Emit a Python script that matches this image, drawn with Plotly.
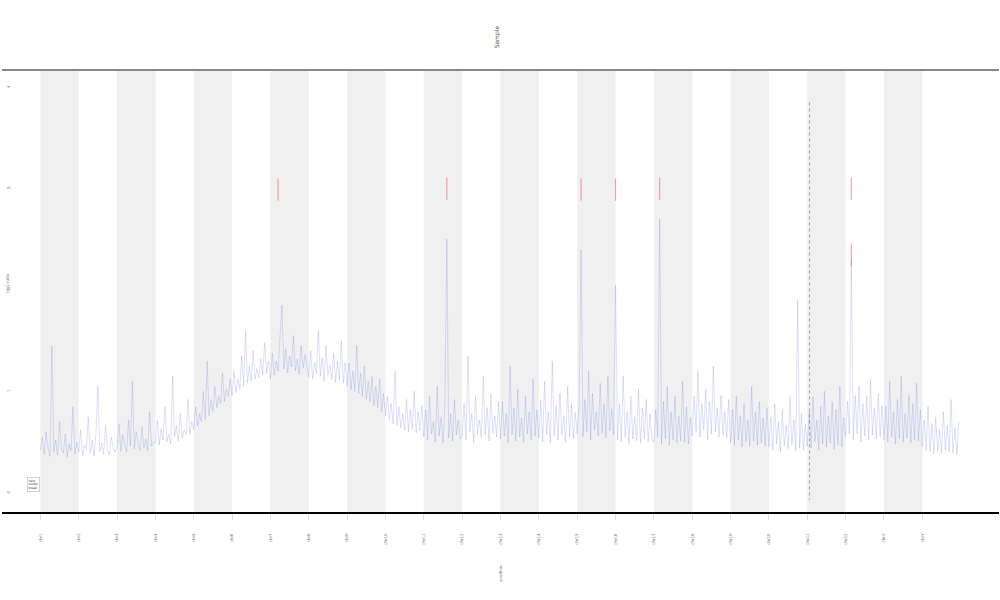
import numpy as np
import plotly.graph_objects as go

# segment names (24 bands, alternately shaded)
segments = [f"chr{i}" for i in range(1, 23)] + ["chrX", "chrY"]

# ratio values, 20 bins per segment
ratio = [
    0.42, 0.55, 0.38, 0.60, 0.44, 0.36, 1.45, 0.40, 0.52, 0.37, 0.70, 0.43, 0.39, 0.58, 0.35, 0.48, 0.41, 0.85, 0.38, 0.50,
    0.40, 0.62, 0.37, 0.47, 0.43, 0.75, 0.39, 0.52, 0.36, 0.58, 1.05, 0.41, 0.49, 0.38, 0.66, 0.42, 0.37, 0.55, 0.44, 0.40,
    0.45, 0.68, 0.41, 0.57, 0.47, 0.40, 0.72, 0.46, 1.10, 0.43, 0.60, 0.48, 0.42, 0.65, 0.44, 0.53, 0.41, 0.80, 0.46, 0.50,
    0.49, 0.72, 0.47, 0.63, 0.52, 0.85, 0.50, 0.58, 0.48, 1.15, 0.55, 0.66, 0.51, 0.78, 0.54, 0.62, 0.57, 0.92, 0.58, 0.70,
    0.62, 0.85, 0.66, 0.78, 0.70, 1.00, 0.72, 1.30, 0.76, 0.92, 0.80, 1.05, 0.84, 0.95, 0.88, 1.18, 0.90, 1.02, 0.95, 1.12,
    0.96, 1.20, 0.99, 1.12, 1.03, 1.35, 1.05, 1.60, 1.08, 1.25, 1.10, 1.40, 1.12, 1.22, 1.14, 1.32, 1.16, 1.48, 1.18, 1.30,
    1.12, 1.38, 1.16, 1.30, 1.20, 1.50, 1.85, 1.22, 1.42, 1.18, 1.35, 1.24, 1.55, 1.20, 1.32, 1.17, 1.45, 1.23, 1.36, 1.25,
    1.14, 1.40, 1.12, 1.28, 1.18, 1.60, 1.15, 1.33, 1.10, 1.45, 1.16, 1.26, 1.12, 1.38, 1.09, 1.30, 1.11, 1.50, 1.08, 1.28,
    1.05, 1.28, 1.02, 1.20, 1.00, 1.45, 0.98, 1.18, 0.95, 1.25, 0.92, 1.10, 0.90, 1.15, 0.86, 1.05, 0.84, 1.12, 0.80, 0.98,
    0.76, 0.95, 0.72, 0.88, 0.68, 1.20, 0.66, 0.85, 0.64, 0.78, 0.62, 0.92, 0.60, 0.82, 0.63, 1.00, 0.59, 0.80, 0.61, 0.86,
    0.55, 0.82, 0.52, 0.95, 0.58, 0.70, 0.50, 1.05, 0.56, 0.75, 0.49, 0.88, 2.50, 0.54, 0.78, 0.51, 0.92, 0.57, 0.72, 0.53,
    0.56, 0.88, 0.52, 1.35, 0.60, 0.78, 0.50, 0.95, 0.58, 0.72, 0.54, 1.15, 0.57, 0.84, 0.51, 0.98, 0.59, 0.76, 0.55, 0.90,
    0.53, 0.90, 0.56, 0.78, 0.49, 1.25, 0.57, 0.84, 0.51, 1.02, 0.55, 0.74, 0.50, 0.95, 0.58, 0.80, 0.52, 1.12, 0.56, 0.82,
    0.54, 0.92, 0.50, 1.10, 0.58, 0.80, 0.49, 1.30, 0.56, 0.86, 0.52, 0.98, 0.57, 0.76, 0.50, 1.05, 0.55, 0.88, 0.53, 0.79,
    0.58, 0.85, 2.40, 0.55, 0.92, 0.60, 1.20, 0.52, 0.98, 0.62, 0.80, 0.56, 1.08, 0.59, 0.88, 0.54, 1.15, 0.61, 0.83, 0.57,
    2.05, 0.52, 0.88, 0.50, 1.15, 0.55, 0.80, 0.48, 0.95, 0.53, 0.75, 0.51, 1.02, 0.49, 0.84, 0.54, 0.92, 0.50, 0.78, 0.52,
    0.50, 0.82, 0.55, 2.70, 0.48, 0.90, 0.53, 1.05, 0.47, 0.80, 0.52, 0.95, 0.49, 0.76, 0.51, 1.10, 0.50, 0.85, 0.48, 0.74,
    0.56, 0.95, 0.60, 1.20, 0.55, 0.88, 0.62, 1.02, 0.52, 0.90, 0.58, 1.25, 0.60, 0.84, 0.55, 0.96, 0.57, 0.80, 0.54, 0.92,
    0.50, 0.82, 0.47, 0.95, 0.52, 0.76, 0.45, 0.88, 0.50, 0.72, 0.46, 1.05, 0.51, 0.80, 0.47, 0.90, 0.49, 0.74, 0.46, 0.84,
    0.45, 0.75, 0.42, 0.88, 0.48, 0.70, 0.40, 0.82, 0.46, 0.66, 0.43, 0.95, 0.47, 0.72, 0.41, 1.90, 0.44, 0.78, 0.42, 0.68,
    0.46, 0.80, 0.44, 0.95, 0.50, 0.72, 0.42, 0.85, 0.48, 1.00, 0.45, 0.76, 0.49, 0.90, 0.43, 0.82, 0.47, 1.05, 0.45, 0.74,
    0.55, 0.90, 0.58, 2.30, 0.52, 0.96, 0.58, 1.05, 0.50, 0.88, 0.56, 0.95, 0.52, 1.12, 0.57, 0.84, 0.53, 0.98, 0.55, 0.86,
    0.52, 0.85, 0.50, 1.10, 0.55, 0.80, 0.48, 0.92, 0.53, 1.15, 0.50, 0.78, 0.54, 0.96, 0.49, 0.88, 0.52, 1.08, 0.51, 0.82,
    0.45, 0.72, 0.42, 0.85, 0.40, 0.68, 0.38, 0.75, 0.41, 0.62, 0.39, 0.80, 0.42, 0.66, 0.40, 0.92, 0.39, 0.64, 0.38, 0.70,
]
bins_per_segment = 20

# flagged outliers (red ticks)
outlier_pos = [6.20, 10.60, 14.10, 15.00, 16.15, 21.15, 21.15]
outlier_val = [2.99, 3.00, 2.99, 2.99, 3.00, 3.00, 2.35]

# breakpoint marker (dark vertical line)
break_pos = [20.06]
break_top = [3.85]
break_bottom = [-0.07]

y_ticks = [0, 1, 2, 3, 4]

x = np.arange(len(ratio)) / bins_per_segment

fig = go.Figure()
fig.add_trace(go.Scatter(
    x=x, y=ratio, mode="lines", name="ratio",
    line=dict(color="rgba(80,80,235,0.3)", width=0.6),
))
fig.add_trace(go.Scatter(
    x=outlier_pos, y=outlier_val, mode="markers", name="outlier",
    marker=dict(symbol="line-ns", size=16, color="#e05a5a", opacity=0.5,
                line=dict(width=1.2, color="#e05a5a")),
))
for p, t, b in zip(break_pos, break_top, break_bottom):
    fig.add_trace(go.Scatter(
        x=[p, p], y=[t, b], mode="lines", name="break",
        line=dict(color="rgba(40,40,40,0.5)", width=0.8, dash="dot"),
    ))

# alternating shaded segment bands
for k in range(0, len(segments), 2):
    fig.add_shape(type="rect", xref="x", yref="paper", x0=k, x1=k + 1, y0=0, y1=1,
                  fillcolor="#f0f0f0", line_width=0, layer="below")
# top frame line
fig.add_shape(type="line", xref="paper", yref="paper", x0=0, x1=1, y0=1, y1=1,
              line=dict(color="#888888", width=2))

tiny = dict(family="DejaVu Sans", size=4, color="#777777")

fig.update_layout(
    width=1000, height=600,
    plot_bgcolor="white", paper_bgcolor="white",
    margin=dict(l=2, r=1, t=70, b=88),
    showlegend=False,
    xaxis=dict(
        range=[-1, 25], tickmode="array", tickvals=list(range(len(segments))), ticktext=segments,
        tickangle=-90, tickfont=tiny, ticks="outside", ticklen=6, tickcolor="#e0e0e0",
        ticklabelstandoff=12,
        showgrid=False, zeroline=False, showline=True, linecolor="black", linewidth=1.5,
        automargin=False,
    ),
    yaxis=dict(
        range=[-0.19, 4.17], tickvals=y_ticks, tickangle=-90, tickfont=tiny,
        ticklabelposition="inside", showgrid=False, zeroline=False, showline=False,
        automargin=False,
    ),
    annotations=[
        dict(text="Sample", x=0.496, y=1.075, xref="paper", yref="paper", showarrow=False,
             yanchor="middle", textangle=-90,
             font=dict(family="DejaVu Sans", size=6, color="#555555")),
        dict(text="position", x=0.5, y=-0.14, xref="paper", yref="paper", showarrow=False,
             yanchor="middle", textangle=-90, font=tiny),
        dict(text="log2 ratio", x=0.001, y=0.52, xref="paper", yref="paper", showarrow=False,
             textangle=-90, font=tiny, xanchor="left"),
        dict(text="ratio<br>outlier<br>break", x=0.025, y=0.045, xref="paper", yref="paper",
             showarrow=False, font=dict(family="DejaVu Sans", size=3, color="#333333"),
             bordercolor="#aaaaaa", borderwidth=0.5, borderpad=1, bgcolor="white", align="left"),
    ],
)

fig.write_html("out.html", config={"displayModeBar": False},
               post_script="document.body.style.margin='0';")
